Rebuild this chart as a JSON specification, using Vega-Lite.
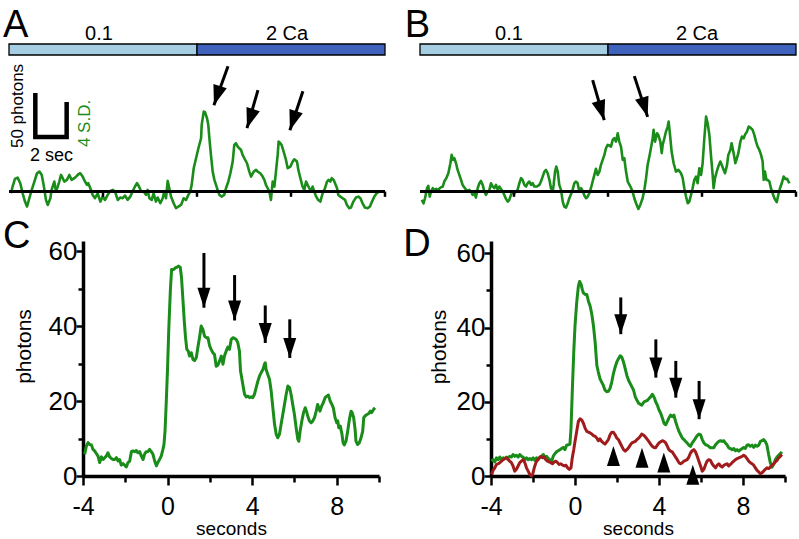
{
"$schema":"https://vega.github.io/schema/vega-lite/v6.json",
"background":"white",
"padding":{"left":2,"top":6,"right":0,"bottom":0},
"config":{"view":{"stroke":null},"text":{"font":"Liberation Sans"},"axis":{"labelFont":"Liberation Sans","titleFont":"Liberation Sans","labelColor":"black","titleColor":"black","domainColor":"black","tickColor":"black","titleFontWeight":"normal","grid":false}},
"datasets":{
"seg":[{"label":"0.1","start":0,"end":12},{"label":"2 Ca","start":12,"end":24}],
"ticksAB":[{"t":6},{"t":12},{"t":18},{"t":24}],
"scalebar":[{"o":1,"t":1.68,"v":112},{"o":2,"t":1.68,"v":62},{"o":3,"t":3.68,"v":62},{"o":4,"t":3.68,"v":101.8}],
"arrowsA":[{"t0":13.98,"v0":142.5,"t1":13.08,"v1":98.2},{"t0":15.89,"v0":115.3,"t1":15.19,"v1":72.1},{"t0":18.76,"v0":114.1,"t1":17.93,"v1":69.8}],
"arrowsB":[{"t0":11.02,"v0":126.6,"t1":11.76,"v1":81.2},{"t0":13.68,"v0":131.2,"t1":14.53,"v1":84.9}],
"arrowsC":[{"t":1.72,"v0":59.5,"v1":44.9},{"t":3.17,"v0":53.6,"v1":41.5},{"t":4.62,"v0":45.5,"v1":35.5},{"t":5.78,"v0":41.8,"v1":31.5}],
"arrowsD":[{"t":2.18,"v0":48.1,"v1":38.2},{"t":3.85,"v0":36.8,"v1":26.5},{"t":4.8,"v0":31.0,"v1":21.1},{"t":5.91,"v0":25.6,"v1":15.3}],
"triD":[{"t":1.83,"v":8.1},{"t":3.19,"v":7.6},{"t":4.23,"v":6.3},{"t":5.61,"v":3.0}],
"traceA":[{"t":0.13,"v":-1.9},{"t":0.23,"v":5.7},{"t":0.38,"v":14.4},{"t":0.55,"v":15.9},{"t":0.72,"v":9.5},{"t":0.87,"v":-1.9},{"t":1.02,"v":-11.4},{"t":1.15,"v":-17},{"t":1.3,"v":-7.6},{"t":1.45,"v":1.9},{"t":1.62,"v":11.4},{"t":1.79,"v":20.8},{"t":1.94,"v":22.7},{"t":2.09,"v":18.9},{"t":2.21,"v":7.6},{"t":2.36,"v":-9.5},{"t":2.47,"v":-15.2},{"t":2.64,"v":-7.6},{"t":2.72,"v":1.9},{"t":2.89,"v":11.4},{"t":3.0,"v":0},{"t":3.11,"v":5.7},{"t":3.21,"v":11.4},{"t":3.32,"v":18.9},{"t":3.43,"v":15.2},{"t":3.53,"v":11.4},{"t":3.7,"v":13.3},{"t":3.85,"v":18.9},{"t":4.0,"v":13.3},{"t":4.17,"v":15.2},{"t":4.28,"v":17},{"t":4.43,"v":19.7},{"t":4.55,"v":20.8},{"t":4.7,"v":17},{"t":4.85,"v":11.4},{"t":4.98,"v":7.6},{"t":5.06,"v":9.5},{"t":5.19,"v":3.8},{"t":5.34,"v":-3.8},{"t":5.49,"v":-7.6},{"t":5.66,"v":-1.9},{"t":5.83,"v":-11.4},{"t":5.98,"v":-5.7},{"t":6.13,"v":-9.5},{"t":6.3,"v":-3.8},{"t":6.47,"v":0.8},{"t":6.62,"v":1.9},{"t":6.77,"v":0},{"t":6.94,"v":-9.5},{"t":7.11,"v":-6.8},{"t":7.26,"v":-7.6},{"t":7.4,"v":-4.5},{"t":7.57,"v":-9.5},{"t":7.74,"v":-5.7},{"t":7.89,"v":0},{"t":8.04,"v":5.7},{"t":8.17,"v":9.5},{"t":8.3,"v":5.7},{"t":8.43,"v":0},{"t":8.6,"v":0},{"t":8.74,"v":-3.8},{"t":8.85,"v":1.9},{"t":8.96,"v":-7.6},{"t":9.11,"v":-9.5},{"t":9.23,"v":-1.9},{"t":9.38,"v":-11.4},{"t":9.49,"v":-6.8},{"t":9.66,"v":-13.3},{"t":9.81,"v":-7.6},{"t":9.91,"v":0},{"t":10.02,"v":-7.6},{"t":10.13,"v":12.1},{"t":10.23,"v":3.8},{"t":10.34,"v":-5.7},{"t":10.51,"v":-13.3},{"t":10.66,"v":-18.9},{"t":10.81,"v":-17},{"t":10.98,"v":-15.2},{"t":11.15,"v":-7.6},{"t":11.3,"v":-9.5},{"t":11.45,"v":-3.8},{"t":11.57,"v":0},{"t":11.66,"v":7.6},{"t":11.79,"v":26.5},{"t":11.94,"v":37.9},{"t":12.09,"v":49.2},{"t":12.26,"v":60.6},{"t":12.3,"v":75.8},{"t":12.43,"v":90.9},{"t":12.51,"v":90.2},{"t":12.64,"v":83.3},{"t":12.72,"v":75.8},{"t":12.79,"v":60.6},{"t":12.89,"v":41.7},{"t":13.0,"v":22.7},{"t":13.11,"v":13.3},{"t":13.28,"v":3.8},{"t":13.43,"v":-3.8},{"t":13.57,"v":-5.7},{"t":13.74,"v":-3.8},{"t":13.85,"v":3.8},{"t":14.0,"v":11.4},{"t":14.13,"v":20.8},{"t":14.28,"v":34.1},{"t":14.38,"v":53},{"t":14.49,"v":54.9},{"t":14.6,"v":51.1},{"t":14.7,"v":49.2},{"t":14.81,"v":47.3},{"t":14.91,"v":41.7},{"t":15.02,"v":37.9},{"t":15.19,"v":32.2},{"t":15.34,"v":22.7},{"t":15.45,"v":17},{"t":15.62,"v":22.7},{"t":15.77,"v":24.6},{"t":15.87,"v":22.7},{"t":16.04,"v":20.8},{"t":16.19,"v":17},{"t":16.3,"v":13.3},{"t":16.4,"v":7.6},{"t":16.51,"v":3.8},{"t":16.62,"v":0},{"t":16.72,"v":-9.5},{"t":16.83,"v":11.4},{"t":16.94,"v":5.7},{"t":17.04,"v":22.7},{"t":17.15,"v":41.7},{"t":17.21,"v":56.8},{"t":17.32,"v":54.9},{"t":17.4,"v":53},{"t":17.53,"v":45.5},{"t":17.68,"v":36},{"t":17.79,"v":26.5},{"t":17.96,"v":28.4},{"t":18.11,"v":34.1},{"t":18.21,"v":36.7},{"t":18.38,"v":34.1},{"t":18.47,"v":24.6},{"t":18.6,"v":15.2},{"t":18.74,"v":5.7},{"t":18.85,"v":1.9},{"t":18.96,"v":11.4},{"t":19.06,"v":7.6},{"t":19.17,"v":3.8},{"t":19.28,"v":0},{"t":19.38,"v":5.7},{"t":19.49,"v":0},{"t":19.6,"v":-5.7},{"t":19.74,"v":-9.5},{"t":19.87,"v":-11.4},{"t":20.02,"v":-1.9},{"t":20.17,"v":3.8},{"t":20.3,"v":11.4},{"t":20.4,"v":13.3},{"t":20.51,"v":11.4},{"t":20.6,"v":15.2},{"t":20.72,"v":13.3},{"t":20.81,"v":9.5},{"t":20.94,"v":3.8},{"t":21.02,"v":-3.8},{"t":21.15,"v":-5.7},{"t":21.3,"v":-7.6},{"t":21.45,"v":-9.5},{"t":21.57,"v":-15.2},{"t":21.72,"v":-18.9},{"t":21.83,"v":-18.2},{"t":21.98,"v":-11.4},{"t":22.15,"v":-6.8},{"t":22.3,"v":-5.7},{"t":22.43,"v":-7.6},{"t":22.57,"v":-13.3},{"t":22.72,"v":-18.2},{"t":22.89,"v":-18.9},{"t":23.04,"v":-17},{"t":23.17,"v":-11.4},{"t":23.32,"v":-5.7},{"t":23.47,"v":-1.9},{"t":23.64,"v":0}],
"traceB":[{"t":0.11,"v":-9.5},{"t":0.23,"v":-13.3},{"t":0.32,"v":-7.6},{"t":0.45,"v":3.8},{"t":0.53,"v":6.4},{"t":0.62,"v":-5.7},{"t":0.7,"v":0},{"t":0.81,"v":3.8},{"t":0.91,"v":1.9},{"t":1.04,"v":3.0},{"t":1.17,"v":1.9},{"t":1.3,"v":4.5},{"t":1.45,"v":5.7},{"t":1.55,"v":11.4},{"t":1.68,"v":15.2},{"t":1.81,"v":20.8},{"t":1.94,"v":32.2},{"t":2.02,"v":41.7},{"t":2.11,"v":36},{"t":2.19,"v":37.9},{"t":2.3,"v":32.2},{"t":2.4,"v":24.6},{"t":2.51,"v":18.9},{"t":2.62,"v":13.3},{"t":2.72,"v":7.6},{"t":2.87,"v":3.8},{"t":3.0,"v":0.8},{"t":3.15,"v":1.9},{"t":3.26,"v":0},{"t":3.36,"v":-3.8},{"t":3.47,"v":-1.9},{"t":3.57,"v":-6.8},{"t":3.68,"v":3.8},{"t":3.79,"v":9.5},{"t":3.89,"v":12.1},{"t":4.0,"v":7.6},{"t":4.11,"v":0},{"t":4.21,"v":-3.8},{"t":4.32,"v":0},{"t":4.43,"v":1.9},{"t":4.53,"v":9.5},{"t":4.64,"v":5.7},{"t":4.74,"v":3.8},{"t":4.85,"v":7.6},{"t":4.96,"v":1.9},{"t":5.06,"v":5.7},{"t":5.17,"v":3.0},{"t":5.28,"v":0},{"t":5.38,"v":-3.8},{"t":5.49,"v":-8.3},{"t":5.6,"v":-11.4},{"t":5.7,"v":-9.5},{"t":5.81,"v":-3.8},{"t":5.91,"v":0},{"t":6.02,"v":-1.9},{"t":6.13,"v":0},{"t":6.23,"v":1.9},{"t":6.34,"v":9.5},{"t":6.45,"v":15.2},{"t":6.55,"v":13.3},{"t":6.66,"v":7.6},{"t":6.77,"v":5.7},{"t":6.87,"v":9.5},{"t":6.98,"v":11.4},{"t":7.09,"v":7.6},{"t":7.19,"v":9.5},{"t":7.3,"v":5.7},{"t":7.47,"v":5.7},{"t":7.62,"v":7.6},{"t":7.72,"v":11.4},{"t":7.83,"v":17},{"t":7.94,"v":22.7},{"t":8.04,"v":24.6},{"t":8.15,"v":20.8},{"t":8.26,"v":13.3},{"t":8.36,"v":3.8},{"t":8.47,"v":0},{"t":8.53,"v":7.6},{"t":8.62,"v":22.7},{"t":8.7,"v":28.4},{"t":8.79,"v":22.7},{"t":8.89,"v":7.6},{"t":9.0,"v":1.9},{"t":9.11,"v":-11.4},{"t":9.21,"v":-17},{"t":9.32,"v":-18.2},{"t":9.43,"v":-13.3},{"t":9.53,"v":-7.6},{"t":9.64,"v":-3.0},{"t":9.74,"v":1.9},{"t":9.85,"v":9.5},{"t":9.96,"v":11.4},{"t":10.06,"v":9.5},{"t":10.17,"v":0},{"t":10.28,"v":3.8},{"t":10.38,"v":0.8},{"t":10.49,"v":-4.5},{"t":10.6,"v":-7.6},{"t":10.7,"v":-5.7},{"t":10.81,"v":-1.9},{"t":10.91,"v":3.8},{"t":11.02,"v":11.4},{"t":11.13,"v":18.9},{"t":11.23,"v":25.8},{"t":11.34,"v":18.9},{"t":11.45,"v":22.7},{"t":11.55,"v":30.3},{"t":11.66,"v":36},{"t":11.77,"v":41.7},{"t":11.87,"v":49.2},{"t":11.98,"v":53},{"t":12.09,"v":52.3},{"t":12.19,"v":51.1},{"t":12.3,"v":58.7},{"t":12.4,"v":60.6},{"t":12.51,"v":56.8},{"t":12.62,"v":66.3},{"t":12.72,"v":56.8},{"t":12.83,"v":51.1},{"t":12.94,"v":36},{"t":13.04,"v":37.9},{"t":13.15,"v":22.7},{"t":13.26,"v":11.4},{"t":13.43,"v":5.7},{"t":13.57,"v":0},{"t":13.68,"v":-7.6},{"t":13.79,"v":-13.3},{"t":13.94,"v":-19.7},{"t":14.06,"v":-15.2},{"t":14.21,"v":-7.6},{"t":14.32,"v":1.9},{"t":14.43,"v":15.2},{"t":14.53,"v":30.3},{"t":14.64,"v":39.8},{"t":14.74,"v":49.2},{"t":14.85,"v":60.6},{"t":14.91,"v":70.1},{"t":15.0,"v":56.8},{"t":15.13,"v":66.3},{"t":15.21,"v":64.4},{"t":15.34,"v":56.8},{"t":15.43,"v":43.6},{"t":15.49,"v":53},{"t":15.6,"v":60.6},{"t":15.7,"v":68.2},{"t":15.81,"v":73.9},{"t":15.87,"v":79.5},{"t":15.96,"v":64.4},{"t":16.06,"v":45.5},{"t":16.19,"v":32.2},{"t":16.34,"v":22.7},{"t":16.49,"v":24.6},{"t":16.66,"v":20.8},{"t":16.77,"v":15.2},{"t":16.87,"v":3.8},{"t":16.98,"v":-5.7},{"t":17.09,"v":-13.3},{"t":17.19,"v":-11.4},{"t":17.3,"v":-3.8},{"t":17.4,"v":3.8},{"t":17.51,"v":13.3},{"t":17.62,"v":17},{"t":17.72,"v":9.5},{"t":17.83,"v":26.5},{"t":17.94,"v":18.9},{"t":18.04,"v":32.2},{"t":18.15,"v":60.6},{"t":18.26,"v":85.2},{"t":18.36,"v":77.7},{"t":18.47,"v":64.4},{"t":18.57,"v":41.7},{"t":18.68,"v":18.9},{"t":18.74,"v":3.8},{"t":18.83,"v":15.2},{"t":18.94,"v":22.7},{"t":19.04,"v":28.4},{"t":19.17,"v":34.1},{"t":19.26,"v":30.3},{"t":19.38,"v":24.6},{"t":19.47,"v":20.8},{"t":19.6,"v":30.3},{"t":19.68,"v":41.7},{"t":19.81,"v":47.3},{"t":19.89,"v":54.9},{"t":20.02,"v":43.6},{"t":20.13,"v":32.2},{"t":20.23,"v":37.9},{"t":20.32,"v":43.6},{"t":20.45,"v":56.8},{"t":20.55,"v":62.5},{"t":20.66,"v":60.6},{"t":20.74,"v":64.4},{"t":20.87,"v":68.2},{"t":20.98,"v":73.9},{"t":21.09,"v":72.7},{"t":21.23,"v":70.1},{"t":21.34,"v":64.4},{"t":21.45,"v":56.8},{"t":21.55,"v":51.1},{"t":21.66,"v":47.3},{"t":21.77,"v":41.7},{"t":21.87,"v":34.1},{"t":21.94,"v":13.3},{"t":22.02,"v":22.7},{"t":22.11,"v":13.3},{"t":22.19,"v":13.3},{"t":22.3,"v":11.4},{"t":22.4,"v":3.8},{"t":22.51,"v":-1.9},{"t":22.62,"v":-7.6},{"t":22.77,"v":-12.1},{"t":22.87,"v":-3.8},{"t":22.98,"v":3.8},{"t":23.11,"v":10.6},{"t":23.21,"v":17},{"t":23.32,"v":14.4},{"t":23.43,"v":14.4},{"t":23.51,"v":11.4},{"t":23.6,"v":9.5}],
"traceC":[{"t":-3.92,"v":5.8},{"t":-3.84,"v":8.0},{"t":-3.76,"v":8.9},{"t":-3.68,"v":8.4},{"t":-3.6,"v":8.3},{"t":-3.53,"v":7.1},{"t":-3.45,"v":6.7},{"t":-3.37,"v":6.0},{"t":-3.29,"v":5.3},{"t":-3.21,"v":3.6},{"t":-3.13,"v":5.1},{"t":-3.05,"v":4.4},{"t":-2.97,"v":4.9},{"t":-2.9,"v":5.3},{"t":-2.82,"v":6.2},{"t":-2.74,"v":5.1},{"t":-2.66,"v":4.7},{"t":-2.58,"v":4.4},{"t":-2.5,"v":4.4},{"t":-2.42,"v":4.9},{"t":-2.34,"v":4.0},{"t":-2.27,"v":4.4},{"t":-2.19,"v":2.9},{"t":-2.11,"v":3.3},{"t":-2.03,"v":2.9},{"t":-1.95,"v":2.4},{"t":-1.87,"v":3.6},{"t":-1.79,"v":4.0},{"t":-1.71,"v":6.5},{"t":-1.64,"v":6.7},{"t":-1.56,"v":6.5},{"t":-1.48,"v":6.8},{"t":-1.4,"v":6.2},{"t":-1.32,"v":6.5},{"t":-1.24,"v":5.3},{"t":-1.16,"v":4.4},{"t":-1.09,"v":5.8},{"t":-1.01,"v":6.5},{"t":-0.93,"v":6.5},{"t":-0.85,"v":7.1},{"t":-0.77,"v":6.5},{"t":-0.69,"v":5.8},{"t":-0.61,"v":4.0},{"t":-0.53,"v":2.7},{"t":-0.46,"v":3.6},{"t":-0.38,"v":4.4},{"t":-0.3,"v":5.3},{"t":-0.22,"v":7.1},{"t":-0.17,"v":8.4},{"t":-0.12,"v":12.0},{"t":-0.06,"v":20.0},{"t":0.0,"v":28.9},{"t":0.06,"v":39.6},{"t":0.13,"v":49.3},{"t":0.19,"v":55.1},{"t":0.29,"v":55.1},{"t":0.38,"v":55.6},{"t":0.44,"v":55.7},{"t":0.51,"v":56.0},{"t":0.6,"v":55.7},{"t":0.66,"v":52.9},{"t":0.73,"v":46.7},{"t":0.79,"v":41.3},{"t":0.85,"v":36.9},{"t":0.91,"v":33.8},{"t":0.98,"v":33.3},{"t":1.04,"v":32.0},{"t":1.12,"v":32.9},{"t":1.2,"v":31.1},{"t":1.28,"v":30.8},{"t":1.36,"v":31.6},{"t":1.43,"v":34.2},{"t":1.51,"v":36.9},{"t":1.59,"v":40.0},{"t":1.67,"v":39.1},{"t":1.75,"v":37.3},{"t":1.83,"v":36.9},{"t":1.91,"v":36.9},{"t":1.99,"v":34.7},{"t":2.06,"v":33.8},{"t":2.14,"v":32.9},{"t":2.22,"v":32.4},{"t":2.3,"v":29.3},{"t":2.38,"v":29.6},{"t":2.46,"v":30.7},{"t":2.54,"v":32.0},{"t":2.62,"v":29.8},{"t":2.69,"v":32.0},{"t":2.77,"v":33.3},{"t":2.85,"v":34.4},{"t":2.93,"v":33.8},{"t":3.01,"v":36.4},{"t":3.09,"v":36.9},{"t":3.17,"v":36.7},{"t":3.25,"v":36.4},{"t":3.32,"v":35.6},{"t":3.4,"v":33.3},{"t":3.45,"v":28.0},{"t":3.48,"v":27.1},{"t":3.56,"v":24.4},{"t":3.64,"v":21.8},{"t":3.72,"v":21.1},{"t":3.8,"v":21.3},{"t":3.88,"v":20.9},{"t":3.95,"v":21.1},{"t":4.03,"v":20.9},{"t":4.11,"v":21.8},{"t":4.19,"v":23.6},{"t":4.27,"v":25.3},{"t":4.35,"v":26.7},{"t":4.43,"v":27.6},{"t":4.51,"v":28.4},{"t":4.58,"v":29.8},{"t":4.62,"v":30.2},{"t":4.66,"v":28.4},{"t":4.74,"v":27.1},{"t":4.82,"v":25.8},{"t":4.9,"v":22.7},{"t":4.98,"v":18.2},{"t":5.06,"v":13.8},{"t":5.14,"v":11.1},{"t":5.21,"v":10.2},{"t":5.29,"v":11.1},{"t":5.37,"v":13.8},{"t":5.45,"v":16.4},{"t":5.53,"v":19.1},{"t":5.61,"v":21.8},{"t":5.69,"v":24.0},{"t":5.77,"v":23.6},{"t":5.84,"v":21.8},{"t":5.92,"v":19.1},{"t":6.0,"v":16.4},{"t":6.08,"v":12.9},{"t":6.16,"v":9.8},{"t":6.21,"v":9.3},{"t":6.27,"v":12.0},{"t":6.35,"v":14.7},{"t":6.43,"v":16.9},{"t":6.51,"v":18.2},{"t":6.57,"v":17.3},{"t":6.63,"v":16.0},{"t":6.71,"v":14.7},{"t":6.79,"v":14.2},{"t":6.87,"v":14.7},{"t":6.95,"v":15.6},{"t":7.03,"v":17.3},{"t":7.1,"v":19.1},{"t":7.15,"v":18.2},{"t":7.21,"v":17.3},{"t":7.29,"v":18.7},{"t":7.37,"v":19.6},{"t":7.45,"v":20.9},{"t":7.53,"v":21.3},{"t":7.61,"v":21.6},{"t":7.69,"v":20.0},{"t":7.77,"v":19.1},{"t":7.84,"v":18.2},{"t":7.92,"v":15.6},{"t":8.0,"v":14.2},{"t":8.05,"v":14.7},{"t":8.1,"v":12.9},{"t":8.17,"v":13.3},{"t":8.25,"v":11.1},{"t":8.3,"v":8.9},{"t":8.36,"v":8.3},{"t":8.44,"v":9.3},{"t":8.52,"v":12.0},{"t":8.6,"v":15.1},{"t":8.68,"v":17.3},{"t":8.73,"v":16.9},{"t":8.8,"v":15.6},{"t":8.87,"v":12.4},{"t":8.91,"v":9.3},{"t":8.99,"v":8.4},{"t":9.07,"v":8.9},{"t":9.15,"v":10.2},{"t":9.23,"v":12.0},{"t":9.28,"v":15.6},{"t":9.34,"v":16.0},{"t":9.43,"v":16.4},{"t":9.5,"v":16.6},{"t":9.59,"v":17.3},{"t":9.65,"v":16.9},{"t":9.75,"v":17.8},{"t":9.81,"v":18.2}],
"greenD":[{"t":-3.98,"v":4.0},{"t":-3.9,"v":4.4},{"t":-3.82,"v":3.8},{"t":-3.74,"v":4.9},{"t":-3.66,"v":4.4},{"t":-3.58,"v":5.1},{"t":-3.5,"v":4.4},{"t":-3.42,"v":4.9},{"t":-3.34,"v":4.7},{"t":-3.26,"v":5.1},{"t":-3.18,"v":4.9},{"t":-3.11,"v":5.3},{"t":-3.03,"v":5.1},{"t":-2.95,"v":5.8},{"t":-2.87,"v":5.3},{"t":-2.79,"v":5.6},{"t":-2.71,"v":5.1},{"t":-2.63,"v":5.8},{"t":-2.55,"v":5.3},{"t":-2.47,"v":5.1},{"t":-2.39,"v":4.4},{"t":-2.31,"v":4.9},{"t":-2.23,"v":4.4},{"t":-2.15,"v":4.7},{"t":-2.07,"v":4.4},{"t":-1.99,"v":4.9},{"t":-1.91,"v":4.2},{"t":-1.83,"v":4.9},{"t":-1.75,"v":4.4},{"t":-1.67,"v":5.1},{"t":-1.59,"v":5.3},{"t":-1.51,"v":5.8},{"t":-1.43,"v":5.1},{"t":-1.35,"v":5.3},{"t":-1.27,"v":4.7},{"t":-1.19,"v":4.4},{"t":-1.11,"v":4.0},{"t":-1.04,"v":5.3},{"t":-0.96,"v":6.0},{"t":-0.88,"v":6.5},{"t":-0.8,"v":6.8},{"t":-0.72,"v":7.1},{"t":-0.64,"v":7.4},{"t":-0.56,"v":7.7},{"t":-0.48,"v":7.1},{"t":-0.4,"v":8.3},{"t":-0.32,"v":8.4},{"t":-0.24,"v":8.6},{"t":-0.19,"v":12.9},{"t":-0.13,"v":22.7},{"t":-0.06,"v":33.3},{"t":0.0,"v":40.4},{"t":0.08,"v":46.7},{"t":0.16,"v":51.1},{"t":0.22,"v":52.4},{"t":0.29,"v":51.6},{"t":0.35,"v":50.2},{"t":0.4,"v":49.3},{"t":0.48,"v":48.9},{"t":0.56,"v":48.9},{"t":0.64,"v":47.1},{"t":0.72,"v":45.8},{"t":0.8,"v":43.6},{"t":0.88,"v":40.4},{"t":0.96,"v":36.0},{"t":1.04,"v":29.8},{"t":1.11,"v":28.0},{"t":1.19,"v":26.2},{"t":1.27,"v":25.3},{"t":1.35,"v":24.4},{"t":1.43,"v":23.1},{"t":1.51,"v":22.7},{"t":1.59,"v":22.8},{"t":1.67,"v":23.6},{"t":1.75,"v":25.3},{"t":1.83,"v":27.6},{"t":1.91,"v":29.3},{"t":1.99,"v":30.7},{"t":2.07,"v":31.6},{"t":2.15,"v":32.4},{"t":2.23,"v":32.0},{"t":2.31,"v":30.7},{"t":2.39,"v":28.9},{"t":2.47,"v":27.1},{"t":2.55,"v":25.8},{"t":2.63,"v":24.9},{"t":2.71,"v":24.0},{"t":2.79,"v":23.1},{"t":2.87,"v":21.3},{"t":2.95,"v":20.4},{"t":3.03,"v":19.6},{"t":3.11,"v":19.3},{"t":3.18,"v":19.1},{"t":3.29,"v":20.0},{"t":3.37,"v":20.2},{"t":3.45,"v":20.4},{"t":3.53,"v":20.9},{"t":3.6,"v":21.3},{"t":3.68,"v":22.0},{"t":3.73,"v":21.6},{"t":3.79,"v":20.9},{"t":3.84,"v":20.0},{"t":3.92,"v":19.1},{"t":4.0,"v":17.8},{"t":4.08,"v":16.9},{"t":4.16,"v":15.6},{"t":4.24,"v":14.2},{"t":4.32,"v":13.8},{"t":4.4,"v":14.7},{"t":4.47,"v":15.6},{"t":4.55,"v":16.4},{"t":4.63,"v":16.0},{"t":4.71,"v":16.4},{"t":4.79,"v":14.7},{"t":4.87,"v":13.3},{"t":4.95,"v":12.0},{"t":5.03,"v":11.1},{"t":5.11,"v":10.2},{"t":5.19,"v":9.8},{"t":5.27,"v":9.3},{"t":5.34,"v":8.9},{"t":5.42,"v":8.3},{"t":5.5,"v":8.0},{"t":5.58,"v":8.9},{"t":5.66,"v":9.5},{"t":5.74,"v":10.2},{"t":5.82,"v":10.9},{"t":5.9,"v":11.3},{"t":5.98,"v":11.1},{"t":6.06,"v":9.8},{"t":6.14,"v":8.9},{"t":6.22,"v":8.4},{"t":6.29,"v":8.3},{"t":6.37,"v":8.0},{"t":6.45,"v":7.6},{"t":6.53,"v":7.6},{"t":6.61,"v":7.6},{"t":6.69,"v":8.4},{"t":6.77,"v":8.9},{"t":6.85,"v":9.3},{"t":6.93,"v":9.5},{"t":7.01,"v":9.3},{"t":7.09,"v":9.5},{"t":7.16,"v":8.9},{"t":7.24,"v":8.4},{"t":7.32,"v":7.6},{"t":7.4,"v":7.4},{"t":7.48,"v":7.1},{"t":7.56,"v":7.4},{"t":7.64,"v":6.8},{"t":7.72,"v":7.1},{"t":7.8,"v":6.7},{"t":7.88,"v":7.1},{"t":7.96,"v":7.4},{"t":8.03,"v":7.7},{"t":8.11,"v":7.4},{"t":8.19,"v":8.3},{"t":8.27,"v":8.4},{"t":8.35,"v":8.0},{"t":8.43,"v":8.3},{"t":8.51,"v":7.7},{"t":8.59,"v":8.3},{"t":8.67,"v":8.0},{"t":8.75,"v":8.3},{"t":8.83,"v":9.3},{"t":8.91,"v":9.5},{"t":8.98,"v":9.8},{"t":9.06,"v":9.3},{"t":9.14,"v":8.3},{"t":9.22,"v":5.8},{"t":9.3,"v":3.6},{"t":9.38,"v":2.4},{"t":9.46,"v":3.1},{"t":9.54,"v":4.4},{"t":9.62,"v":5.1},{"t":9.7,"v":5.6},{"t":9.78,"v":6.0},{"t":9.85,"v":6.5}],
"redD":[{"t":-3.98,"v":0.4},{"t":-3.9,"v":1.5},{"t":-3.82,"v":2.2},{"t":-3.74,"v":3.1},{"t":-3.66,"v":3.3},{"t":-3.58,"v":3.6},{"t":-3.5,"v":4.0},{"t":-3.42,"v":4.4},{"t":-3.34,"v":4.7},{"t":-3.26,"v":4.9},{"t":-3.18,"v":4.4},{"t":-3.11,"v":4.0},{"t":-3.03,"v":3.6},{"t":-2.95,"v":2.7},{"t":-2.87,"v":1.3},{"t":-2.79,"v":1.8},{"t":-2.71,"v":2.7},{"t":-2.63,"v":3.6},{"t":-2.55,"v":4.0},{"t":-2.47,"v":4.4},{"t":-2.39,"v":3.6},{"t":-2.31,"v":2.2},{"t":-2.23,"v":1.3},{"t":-2.15,"v":0.4},{"t":-2.07,"v":0},{"t":-2.02,"v":0.4},{"t":-1.94,"v":2.2},{"t":-1.86,"v":3.6},{"t":-1.78,"v":4.4},{"t":-1.7,"v":4.9},{"t":-1.62,"v":5.3},{"t":-1.54,"v":4.9},{"t":-1.46,"v":5.1},{"t":-1.39,"v":4.4},{"t":-1.31,"v":4.0},{"t":-1.23,"v":3.8},{"t":-1.15,"v":3.6},{"t":-1.07,"v":3.3},{"t":-0.99,"v":3.8},{"t":-0.91,"v":4.0},{"t":-0.83,"v":3.6},{"t":-0.75,"v":3.1},{"t":-0.67,"v":3.3},{"t":-0.59,"v":2.9},{"t":-0.51,"v":2.7},{"t":-0.43,"v":2.9},{"t":-0.35,"v":2.2},{"t":-0.27,"v":1.8},{"t":-0.19,"v":2.2},{"t":-0.13,"v":4.9},{"t":-0.06,"v":7.1},{"t":0.0,"v":9.3},{"t":0.08,"v":12.0},{"t":0.16,"v":14.7},{"t":0.24,"v":15.4},{"t":0.32,"v":15.1},{"t":0.4,"v":14.2},{"t":0.48,"v":12.9},{"t":0.56,"v":12.0},{"t":0.64,"v":11.8},{"t":0.72,"v":11.6},{"t":0.8,"v":11.3},{"t":0.88,"v":10.9},{"t":0.96,"v":10.7},{"t":1.04,"v":10.2},{"t":1.11,"v":9.5},{"t":1.19,"v":10.0},{"t":1.27,"v":9.3},{"t":1.35,"v":8.9},{"t":1.43,"v":8.6},{"t":1.51,"v":9.2},{"t":1.59,"v":9.8},{"t":1.67,"v":11.1},{"t":1.75,"v":11.8},{"t":1.83,"v":11.8},{"t":1.91,"v":11.1},{"t":1.99,"v":10.2},{"t":2.07,"v":9.8},{"t":2.15,"v":8.9},{"t":2.23,"v":8.0},{"t":2.31,"v":7.1},{"t":2.39,"v":6.7},{"t":2.47,"v":7.1},{"t":2.55,"v":7.6},{"t":2.63,"v":8.3},{"t":2.71,"v":8.9},{"t":2.79,"v":9.1},{"t":2.87,"v":9.3},{"t":2.95,"v":9.8},{"t":3.03,"v":10.2},{"t":3.11,"v":10.7},{"t":3.18,"v":11.3},{"t":3.29,"v":10.9},{"t":3.37,"v":10.4},{"t":3.45,"v":9.8},{"t":3.53,"v":9.2},{"t":3.6,"v":8.6},{"t":3.68,"v":8.0},{"t":3.76,"v":7.7},{"t":3.84,"v":7.6},{"t":3.92,"v":8.3},{"t":4.0,"v":8.9},{"t":4.08,"v":9.2},{"t":4.16,"v":9.5},{"t":4.24,"v":9.3},{"t":4.32,"v":8.9},{"t":4.4,"v":8.0},{"t":4.47,"v":7.1},{"t":4.55,"v":6.7},{"t":4.63,"v":6.5},{"t":4.71,"v":5.8},{"t":4.79,"v":5.1},{"t":4.87,"v":4.4},{"t":4.95,"v":3.6},{"t":5.03,"v":3.3},{"t":5.11,"v":3.6},{"t":5.19,"v":4.0},{"t":5.27,"v":4.2},{"t":5.34,"v":4.4},{"t":5.42,"v":5.1},{"t":5.5,"v":6.2},{"t":5.58,"v":6.8},{"t":5.66,"v":7.1},{"t":5.74,"v":6.5},{"t":5.82,"v":5.3},{"t":5.9,"v":4.0},{"t":5.98,"v":2.7},{"t":6.06,"v":1.3},{"t":6.14,"v":1.8},{"t":6.22,"v":3.1},{"t":6.29,"v":4.0},{"t":6.37,"v":4.4},{"t":6.45,"v":4.2},{"t":6.53,"v":3.3},{"t":6.61,"v":2.7},{"t":6.69,"v":2.2},{"t":6.77,"v":2.9},{"t":6.85,"v":3.3},{"t":6.93,"v":2.7},{"t":7.01,"v":2.4},{"t":7.09,"v":2.9},{"t":7.16,"v":3.1},{"t":7.24,"v":3.3},{"t":7.32,"v":2.7},{"t":7.4,"v":3.1},{"t":7.48,"v":3.6},{"t":7.56,"v":4.0},{"t":7.64,"v":4.4},{"t":7.72,"v":4.7},{"t":7.8,"v":4.9},{"t":7.88,"v":5.1},{"t":7.96,"v":5.3},{"t":8.03,"v":5.6},{"t":8.11,"v":5.3},{"t":8.19,"v":4.7},{"t":8.27,"v":4.0},{"t":8.35,"v":3.6},{"t":8.43,"v":3.3},{"t":8.51,"v":2.9},{"t":8.59,"v":2.2},{"t":8.67,"v":1.5},{"t":8.75,"v":1.1},{"t":8.83,"v":0.6},{"t":8.91,"v":0.9},{"t":8.98,"v":1.3},{"t":9.06,"v":1.8},{"t":9.14,"v":2.2},{"t":9.22,"v":2.0},{"t":9.3,"v":2.4},{"t":9.38,"v":2.9},{"t":9.46,"v":3.3},{"t":9.54,"v":3.8},{"t":9.62,"v":4.2},{"t":9.7,"v":4.9},{"t":9.78,"v":5.3},{"t":9.85,"v":5.8}]
},
"bounds":"full",
"spacing":4,
"vconcat":[
{"bounds":"flush","spacing":35,"hconcat":[
{"width":376,"height":172,"layer":[
{"data":{"name":"seg"},"mark":{"type":"rect","stroke":"black","strokeWidth":1.3},"encoding":{"x":{"field":"start","type":"quantitative","scale":{"domain":[0,24],"nice":false,"zero":false},"axis":null},"x2":{"field":"end"},"y":{"datum":167.7,"type":"quantitative","scale":{"domain":[-25.5,170],"nice":false,"zero":false},"axis":null},"y2":{"datum":155.2},"color":{"field":"label","type":"nominal","scale":{"domain":["0.1","2 Ca"],"range":["#a6cee3","#3f63bd"]},"legend":null}}},
{"data":{"name":"seg"},"transform":[{"calculate":"(datum.start+datum.end)/2","as":"mid"}],"mark":{"type":"text","font":"Liberation Sans","fontSize":20,"color":"black","baseline":"alphabetic","align":"center","dx":-4},"encoding":{"x":{"field":"mid","type":"quantitative","axis":null},"y":{"datum":172.3,"type":"quantitative","axis":null},"text":{"field":"label"}}},
{"data":{"name":"traceA"},"mark":{"type":"line","color":"#1a8c1a","strokeWidth":2.6,"strokeJoin":"round"},"encoding":{"x":{"field":"t","type":"quantitative","axis":null},"y":{"field":"v","type":"quantitative","axis":null}}},
{"data":{"values":[{}]},"mark":{"type":"rule","color":"black","strokeWidth":3},"encoding":{"x":{"datum":0,"type":"quantitative","axis":null},"x2":{"datum":24},"y":{"datum":0,"type":"quantitative","axis":null}}},
{"data":{"name":"ticksAB"},"mark":{"type":"rule","color":"black","strokeWidth":2.5},"encoding":{"x":{"field":"t","type":"quantitative","axis":null},"y":{"datum":0,"type":"quantitative","axis":null},"y2":{"datum":-6}}},
{"data":{"name":"scalebar"},"mark":{"type":"line","color":"black","strokeWidth":4.5,"strokeJoin":"miter","strokeCap":"butt"},"encoding":{"x":{"field":"t","type":"quantitative","axis":null},"y":{"field":"v","type":"quantitative","axis":null},"order":{"field":"o"}}},
{"data":{"values":[{}]},"mark":{"type":"text","font":"Liberation Sans","fontSize":17,"color":"black","angle":270,"align":"center","baseline":"middle"},"encoding":{"x":{"datum":0.57,"type":"quantitative","axis":null},"y":{"datum":97.3,"type":"quantitative","axis":null},"text":{"value":"50 photons"}}},
{"data":{"values":[{}]},"mark":{"type":"text","font":"Liberation Sans","fontSize":17,"color":"#1a8c1a","angle":270,"align":"center","baseline":"middle"},"encoding":{"x":{"datum":4.82,"type":"quantitative","axis":null},"y":{"datum":77.4,"type":"quantitative","axis":null},"text":{"value":"4 S.D."}}},
{"data":{"values":[{}]},"mark":{"type":"text","font":"Liberation Sans","fontSize":18,"color":"black","align":"center","baseline":"alphabetic"},"encoding":{"x":{"datum":2.71,"type":"quantitative","axis":null},"y":{"datum":34.8,"type":"quantitative","axis":null},"text":{"value":"2 sec"}}},
{"data":{"name":"arrowsA"},"mark":{"type":"rule","color":"black","strokeWidth":3},"encoding":{"x":{"field":"t0","type":"quantitative","axis":null},"y":{"field":"v0","type":"quantitative","axis":null},"x2":{"field":"t1"},"y2":{"field":"v1"}}},
{"data":{"name":"arrowsA"},"mark":{"type":"point","shape":"M0,0L-0.7,-2L0.7,-2Z","size":400,"filled":true,"color":"black","opacity":1,"angle":18},"encoding":{"x":{"field":"t1","type":"quantitative","axis":null},"y":{"field":"v1","type":"quantitative","axis":null}}},
{"data":{"values":[{}]},"mark":{"type":"text","font":"Liberation Sans","fontSize":38,"color":"black","align":"left","baseline":"alphabetic"},"encoding":{"x":{"datum":-0.383,"type":"quantitative","axis":null},"y":{"datum":175.7,"type":"quantitative","axis":null},"text":{"value":"A"}}}
]},
{"width":376,"height":172,"layer":[
{"data":{"name":"seg"},"mark":{"type":"rect","stroke":"black","strokeWidth":1.3},"encoding":{"x":{"field":"start","type":"quantitative","scale":{"domain":[0,24],"nice":false,"zero":false},"axis":null},"x2":{"field":"end"},"y":{"datum":167.7,"type":"quantitative","scale":{"domain":[-25.5,170],"nice":false,"zero":false},"axis":null},"y2":{"datum":155.2},"color":{"field":"label","type":"nominal","scale":{"domain":["0.1","2 Ca"],"range":["#a6cee3","#3f63bd"]},"legend":null}}},
{"data":{"name":"seg"},"transform":[{"calculate":"(datum.start+datum.end)/2","as":"mid"}],"mark":{"type":"text","font":"Liberation Sans","fontSize":20,"color":"black","baseline":"alphabetic","align":"center","dx":-5},"encoding":{"x":{"field":"mid","type":"quantitative","axis":null},"y":{"datum":172.3,"type":"quantitative","axis":null},"text":{"field":"label"}}},
{"data":{"name":"traceB"},"mark":{"type":"line","color":"#1a8c1a","strokeWidth":2.6,"strokeJoin":"round"},"encoding":{"x":{"field":"t","type":"quantitative","axis":null},"y":{"field":"v","type":"quantitative","axis":null}}},
{"data":{"values":[{}]},"mark":{"type":"rule","color":"black","strokeWidth":3},"encoding":{"x":{"datum":0,"type":"quantitative","axis":null},"x2":{"datum":24},"y":{"datum":0,"type":"quantitative","axis":null}}},
{"data":{"name":"ticksAB"},"mark":{"type":"rule","color":"black","strokeWidth":2.5},"encoding":{"x":{"field":"t","type":"quantitative","axis":null},"y":{"datum":0,"type":"quantitative","axis":null},"y2":{"datum":-6}}},
{"data":{"name":"arrowsB"},"mark":{"type":"rule","color":"black","strokeWidth":3},"encoding":{"x":{"field":"t0","type":"quantitative","axis":null},"y":{"field":"v0","type":"quantitative","axis":null},"x2":{"field":"t1"},"y2":{"field":"v1"}}},
{"data":{"name":"arrowsB"},"mark":{"type":"point","shape":"M0,0L-0.7,-2L0.7,-2Z","size":400,"filled":true,"color":"black","opacity":1,"angle":-17},"encoding":{"x":{"field":"t1","type":"quantitative","axis":null},"y":{"field":"v1","type":"quantitative","axis":null}}},
{"data":{"values":[{}]},"mark":{"type":"text","font":"Liberation Sans","fontSize":38,"color":"black","align":"left","baseline":"alphabetic"},"encoding":{"x":{"datum":-0.98,"type":"quantitative","axis":null},"y":{"datum":175.7,"type":"quantitative","axis":null},"text":{"value":"B"}}}
]}
]},
{"bounds":"flush","spacing":0,"hconcat":[
{"width":74,"height":1,"data":{"values":[]},"mark":{"type":"point","opacity":0}},
{"bounds":"flush","spacing":112,"hconcat":[
{"width":296,"height":235,"resolve":{"axis":{"x":"independent","y":"independent"}},"layer":[
{"data":{"name":"traceC"},"mark":{"type":"line","color":"#1a8c1a","strokeWidth":3,"strokeJoin":"round"},"encoding":{
"x":{"field":"t","type":"quantitative","scale":{"domain":[-4,10],"nice":false,"zero":false},"axis":{"orient":"bottom","values":[-4,0,4,8],"labelExpr":"'' + datum.value","tickSize":9,"tickWidth":2.5,"domainWidth":3.5,"labelFontSize":25,"labelPadding":9,"labelOverlap":false,"labelFlush":false,"title":"seconds","titleFontSize":19,"titleBaseline":"alphabetic","titleY":58.5}},
"y":{"field":"v","type":"quantitative","scale":{"domain":[0,62.7],"nice":false},"axis":{"orient":"left","values":[0,20,40,60],"labelExpr":"'' + datum.value","tickSize":7,"tickWidth":2.5,"domainWidth":3.5,"labelFontSize":26,"labelPadding":-1,"labelOverlap":false,"title":"photons","titleFontSize":21,"titleAngle":270,"titleBaseline":"alphabetic","titleX":-53,"titleY":105}}}},
{"data":{"name":"arrowsC"},"mark":{"type":"rule","color":"black","strokeWidth":3},"encoding":{"x":{"field":"t","type":"quantitative","axis":{"orient":"bottom","values":[-2,2,6,10],"labels":false,"domain":false,"tickSize":6,"tickWidth":2.5,"title":null}},"y":{"field":"v0","type":"quantitative","axis":{"orient":"left","values":[10,30,50],"labels":false,"domain":false,"tickSize":5,"tickWidth":2.5,"title":null}},"y2":{"field":"v1"}}},
{"data":{"name":"arrowsC"},"mark":{"type":"point","shape":"M0,0L-0.65,-2L0.65,-2Z","size":400,"filled":true,"color":"black","opacity":1},"encoding":{"x":{"field":"t","type":"quantitative","axis":null},"y":{"field":"v1","type":"quantitative","axis":null}}},
{"data":{"values":[{}]},"mark":{"type":"text","font":"Liberation Sans","fontSize":38,"color":"black","align":"left","baseline":"alphabetic"},"encoding":{"x":{"datum":-7.78,"type":"quantitative","axis":null},"y":{"datum":60.7,"type":"quantitative","axis":null},"text":{"value":"C"}}}
]},
{"width":294,"height":235,"resolve":{"axis":{"x":"independent","y":"independent"}},"layer":[
{"data":{"name":"greenD"},"mark":{"type":"line","color":"#1a8c1a","strokeWidth":3,"strokeJoin":"round"},"encoding":{
"x":{"field":"t","type":"quantitative","scale":{"domain":[-4,10],"nice":false,"zero":false},"axis":{"orient":"bottom","values":[-4,0,4,8],"labelExpr":"'' + datum.value","tickSize":9,"tickWidth":2.5,"domainWidth":3.5,"labelFontSize":25,"labelPadding":9,"labelOverlap":false,"labelFlush":false,"title":"seconds","titleFontSize":19,"titleBaseline":"alphabetic","titleY":58.5}},
"y":{"field":"v","type":"quantitative","scale":{"domain":[0,63.3],"nice":false},"axis":{"orient":"left","values":[0,20,40,60],"labelExpr":"'' + datum.value","tickSize":7,"tickWidth":2.5,"domainWidth":3.5,"labelFontSize":26,"labelPadding":-1,"labelOverlap":false,"title":"photons","titleFontSize":21,"titleAngle":270,"titleBaseline":"alphabetic","titleX":-46,"titleY":105.5}}}},
{"data":{"name":"redD"},"mark":{"type":"line","color":"#a01c1c","strokeWidth":3,"strokeJoin":"round"},"encoding":{"x":{"field":"t","type":"quantitative","axis":null},"y":{"field":"v","type":"quantitative","axis":null}}},
{"data":{"name":"arrowsD"},"mark":{"type":"rule","color":"black","strokeWidth":3},"encoding":{"x":{"field":"t","type":"quantitative","axis":{"orient":"bottom","values":[-2,2,6,10],"labels":false,"domain":false,"tickSize":6,"tickWidth":2.5,"title":null}},"y":{"field":"v0","type":"quantitative","axis":{"orient":"left","values":[10,30,50],"labels":false,"domain":false,"tickSize":5,"tickWidth":2.5,"title":null}},"y2":{"field":"v1"}}},
{"data":{"name":"arrowsD"},"mark":{"type":"point","shape":"M0,0L-0.65,-2L0.65,-2Z","size":400,"filled":true,"color":"black","opacity":1},"encoding":{"x":{"field":"t","type":"quantitative","axis":null},"y":{"field":"v1","type":"quantitative","axis":null}}},
{"data":{"name":"triD"},"mark":{"type":"point","shape":"M0,0L-0.65,-2L0.65,-2Z","size":400,"filled":true,"color":"black","opacity":1,"angle":180},"encoding":{"x":{"field":"t","type":"quantitative","axis":null},"y":{"field":"v","type":"quantitative","axis":null}}},
{"data":{"values":[{}]},"mark":{"type":"text","font":"Liberation Sans","fontSize":38,"color":"black","align":"left","baseline":"alphabetic"},"encoding":{"x":{"datum":-8.18,"type":"quantitative","axis":null},"y":{"datum":59.3,"type":"quantitative","axis":null},"text":{"value":"D"}}}
]}
]}
]}
]
}
